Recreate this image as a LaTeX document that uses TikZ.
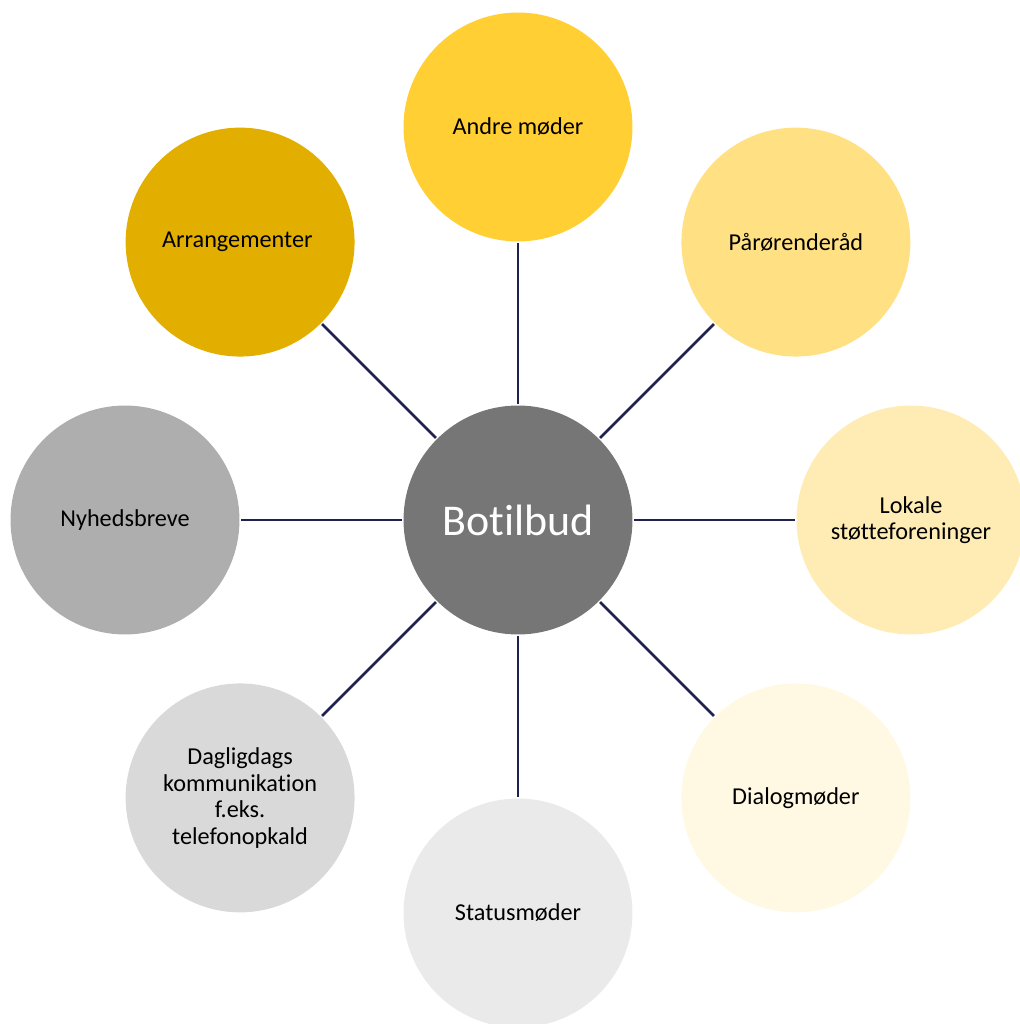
\documentclass[tikz,border=0pt]{standalone}
\usepackage{fontspec}
\setmainfont[Ligatures=NoCommon]{Carlito}

\definecolor{hubgrey}{HTML}{767676}
\definecolor{linknavy}{HTML}{1F2150}
\definecolor{goldA}{HTML}{FFCF33}
\definecolor{goldB}{HTML}{FFE083}
\definecolor{goldC}{HTML}{FFECB4}
\definecolor{goldD}{HTML}{FFF8E2}
\definecolor{greyA}{HTML}{EAEAEA}
\definecolor{greyB}{HTML}{D9D9D9}
\definecolor{greyC}{HTML}{AEAEAE}
\definecolor{goldE}{HTML}{E2AF00}

\begin{document}
\begin{tikzpicture}[x=0.02cm, y=0.02cm,
	bubble/.style={circle, minimum size=4.58cm, inner sep=0, outer sep=0.03cm,
		align=center, font=\fontsize{13.8}{15.1}\selectfont},
	link/.style={draw=linknavy, line width=0.05cm}]

	\useasboundingbox (-518, -504) rectangle (501, 520);

	%hub
	\node [bubble, fill=hubgrey, text=white, font=\fontsize{25}{30}\selectfont] (hub) at (0, 0) {Botilbud};

	%topics around the hub
	\foreach \ang/\nm/\col/\txt in {
		90/andre/goldA/{Andre møder},
		45/paaroer/goldB/{Pårørenderåd},
		0/lokale/goldC/{Lokale\\støtteforeninger},
		-45/dialog/goldD/{Dialogmøder},
		-90/status/greyA/{Statusmøder},
		-135/daglig/greyB/{Dagligdags\\kommunikation\\f.eks.\\telefonopkald},
		180/nyhed/greyC/{Nyhedsbreve},
		135/arrang/goldE/{Arrangementer}
	}{
		\node [bubble, fill=\col] (\nm) at (\ang:393) {\txt};
		\draw [link] (hub) -- (\nm);
	}

\end{tikzpicture}
\end{document}
